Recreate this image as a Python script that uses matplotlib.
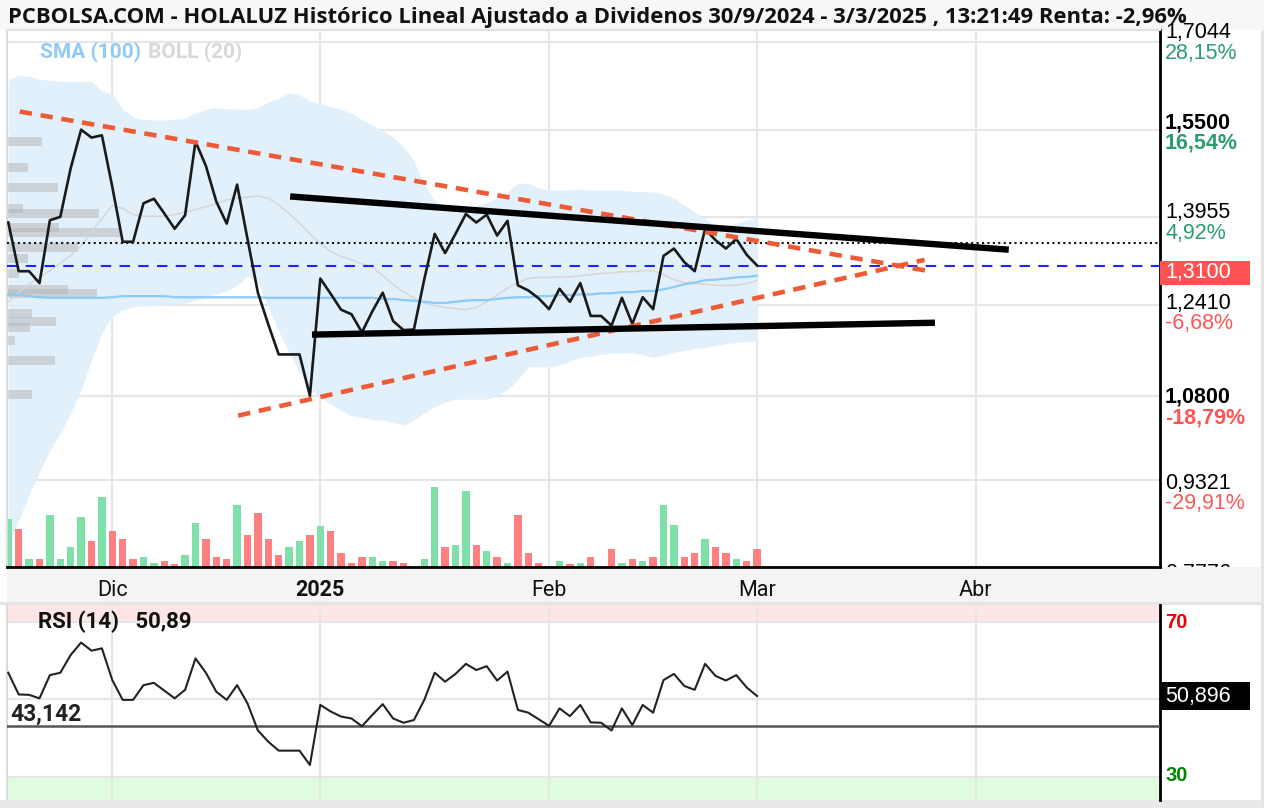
import matplotlib
matplotlib.use("Agg")
import matplotlib.pyplot as plt
from matplotlib import transforms
from matplotlib.patches import Rectangle
import numpy as np

# ---------------- data (trading-day index 0 = 18/11/2024 ... 72 = 3/3/2025) -------------
price = [1.386, 1.300, 1.300, 1.279, 1.390, 1.396, 1.482, 1.550, 1.536, 1.540,
         1.449, 1.352, 1.352, 1.420, 1.428, 1.402, 1.375, 1.399, 1.529, 1.486,
         1.423, 1.384, 1.453, 1.357, 1.262, 1.206, 1.153, 1.153, 1.153, 1.080,
         1.287, 1.260, 1.232, 1.224, 1.192, 1.229, 1.262, 1.212, 1.196, 1.197,
         1.286, 1.366, 1.332, 1.366, 1.401, 1.386, 1.400, 1.363, 1.389, 1.275,
         1.266, 1.252, 1.233, 1.269, 1.246, 1.279, 1.221, 1.221, 1.204, 1.253,
         1.207, 1.254, 1.233, 1.327, 1.340, 1.316, 1.300, 1.3745, 1.355, 1.340,
         1.357, 1.329, 1.310]

boll_upper = [1.637, 1.646, 1.644, 1.639, 1.637, 1.635, 1.635, 1.635, 1.635, 1.618,
              1.613, 1.586, 1.572, 1.568, 1.567, 1.567, 1.568, 1.570, 1.579, 1.586,
              1.589, 1.587, 1.586, 1.586, 1.589, 1.599, 1.606, 1.615, 1.611, 1.601,
              1.596, 1.591, 1.586, 1.579, 1.568, 1.558, 1.548, 1.537, 1.520, 1.495,
              1.452, 1.426, 1.411, 1.409, 1.412, 1.416, 1.421, 1.429, 1.440, 1.455,
              1.455, 1.447, 1.443, 1.443, 1.443, 1.445, 1.443, 1.443, 1.443, 1.443,
              1.441, 1.441, 1.440, 1.436, 1.429, 1.417, 1.404, 1.393, 1.378, 1.380,
              1.385, 1.390, 1.395]

boll_lower = [0.817, 0.860, 0.906, 0.946, 0.983, 1.014, 1.049, 1.091, 1.143, 1.191,
              1.220, 1.232, 1.237, 1.239, 1.239, 1.241, 1.242, 1.244, 1.249, 1.254,
              1.260, 1.266, 1.275, 1.292, 1.280, 1.237, 1.194, 1.157, 1.122, 1.091,
              1.078, 1.066, 1.054, 1.045, 1.042, 1.038, 1.037, 1.033, 1.028, 1.037,
              1.050, 1.061, 1.069, 1.074, 1.074, 1.074, 1.074, 1.081, 1.091, 1.109,
              1.131, 1.131, 1.131, 1.134, 1.141, 1.148, 1.150, 1.153, 1.155, 1.155,
              1.157, 1.153, 1.148, 1.152, 1.157, 1.160, 1.164, 1.165, 1.169, 1.172,
              1.174, 1.176, 1.177]

boll_mid = [1.246, 1.263, 1.277, 1.289, 1.301, 1.314, 1.328, 1.345, 1.369, 1.393,
            1.416, 1.411, 1.400, 1.397, 1.397, 1.397, 1.400, 1.404, 1.409, 1.414,
            1.419, 1.426, 1.429, 1.431, 1.433, 1.429, 1.417, 1.402, 1.385, 1.366,
            1.349, 1.335, 1.326, 1.320, 1.313, 1.308, 1.292, 1.277, 1.263, 1.253,
            1.244, 1.239, 1.236, 1.234, 1.232, 1.236, 1.246, 1.258, 1.270, 1.280,
            1.287, 1.289, 1.289, 1.290, 1.290, 1.292, 1.294, 1.296, 1.297, 1.299,
            1.299, 1.301, 1.301, 1.294, 1.285, 1.280, 1.278, 1.277, 1.275, 1.275,
            1.275, 1.278, 1.284]

sma100 = [1.258, 1.258, 1.256, 1.254, 1.253, 1.253, 1.253, 1.253, 1.253, 1.253,
          1.254, 1.256, 1.256, 1.256, 1.256, 1.256, 1.254, 1.254, 1.254, 1.254,
          1.254, 1.254, 1.254, 1.254, 1.254, 1.253, 1.253, 1.253, 1.253, 1.253,
          1.253, 1.253, 1.253, 1.253, 1.253, 1.253, 1.251, 1.251, 1.249, 1.248,
          1.246, 1.244, 1.244, 1.246, 1.248, 1.249, 1.249, 1.251, 1.253, 1.254,
          1.254, 1.256, 1.256, 1.258, 1.258, 1.259, 1.259, 1.261, 1.261, 1.263,
          1.263, 1.265, 1.265, 1.268, 1.272, 1.277, 1.280, 1.284, 1.285, 1.287,
          1.289, 1.290, 1.292]

volume = [145, 115, 23, 23, 157, 23, 60, 150, 78, 210,
          108, 85, 23, 30, 13, 18, 8, 37, 133, 85,
          30, 23, 187, 97, 163, 85, 37, 60, 78, 97,
          122, 108, 43, 13, 30, 30, 18, 18, 13, 0,
          23, 240, 60, 67, 228, 67, 48, 30, 13, 157,
          43, 13, 0, 18, 10, 13, 30, 0, 55, 13,
          25, 18, 30, 187, 125, 30, 43, 83, 60, 43,
          23, 18, 55]
volume_up = [1, 0, 1, 0, 1, 1, 1, 1, 0, 1,
             0, 0, 0, 1, 1, 0, 0, 1, 1, 0,
             0, 0, 1, 0, 0, 0, 0, 1, 1, 0,
             1, 0, 0, 0, 0, 1, 1, 0, 0, 0,
             1, 1, 0, 1, 1, 0, 1, 0, 1, 0,
             0, 0, 0, 1, 0, 1, 0, 0, 0, 1,
             0, 1, 0, 1, 1, 0, 0, 1, 0, 0,
             1, 0, 0]

rsi = [56.9, 51.3, 51.2, 50.3, 56.3, 56.9, 61.5, 64.7, 62.6, 63.2,
       55.0, 49.9, 49.9, 53.7, 54.3, 52.3, 50.3, 52.5, 60.6, 56.9,
       52.0, 49.9, 53.7, 49.0, 42.0, 39.1, 36.8, 36.8, 36.8, 33.1,
       48.6, 46.9, 45.6, 45.1, 43.1, 46.0, 48.8, 45.1, 44.0, 44.7,
       49.9, 56.9, 54.6, 56.6, 59.2, 57.6, 58.6, 54.9, 57.2, 47.3,
       46.6, 44.9, 43.2, 47.7, 45.7, 48.6, 44.1, 44.0, 42.0, 47.7,
       43.4, 48.6, 46.6, 55.0, 56.6, 53.5, 52.5, 59.2, 56.1, 54.9,
       56.3, 53.1, 50.89]

# volume-by-price profile (price level, relative length in trading days)
profile_level = [1.529, 1.483, 1.448, 1.410, 1.402, 1.378, 1.368, 1.342, 1.323,
                 1.296, 1.268, 1.260, 1.225, 1.212, 1.200, 1.177, 1.143, 1.083]
profile_len = [3.4, 2.0, 4.9, 1.5, 8.8, 5.0, 10.9, 6.8, 2.0,
               1.2, 5.9, 8.7, 2.4, 4.7, 2.2, 0.8, 4.6, 2.4]

# user-drawn trend lines: (x0, y0, x1, y1) in (trading-day index, price)
red_lines = [(1.1, 1.582, 88.9, 1.299), (22.1, 1.045, 88.1, 1.320)]
black_lines = [(27.1, 1.432, 96.2, 1.338), (29.2, 1.188, 89.1, 1.209)]

prev_close = 1.35
last_price = 1.31
last_rsi = 50.896
rsi_ref = 43.142

price_levels = [1.7044, 1.5500, 1.3955, 1.2410, 1.0800, 0.9321, 0.7776]
price_labels = ["1,7044", "1,5500", "1,3955", "1,2410", "1,0800", "0,9321", "0,7776"]
pct_labels = ["28,15%", "16,54%", "4,92%", "-6,68%", "-18,79%", "-29,91%", "-41,53%"]
bold_levels = [False, True, False, False, True, False, False]

month_idx = [10, 30, 52, 72, 93]
month_labels = ["Dic", "2025", "Feb", "Mar", "Abr"]

title = ("PCBOLSA.COM - HOLALUZ Histórico Lineal Ajustado a Dividenos 30/9/2024 - "
         "3/3/2025 , 13:21:49 Renta: -2,96%")

# ---------------- figure -------------
W, H = 1264, 808
fig = plt.figure(figsize=(W / 100, H / 100), dpi=100)
fig.patch.set_facecolor("white")


def box(x0, y0, x1, y1):
    return [x0 / W, 1 - y1 / H, (x1 - x0) / W, (y1 - y0) / H]


def frect(x0, y0, x1, y1, **kw):
    fig.add_artist(Rectangle((x0 / W, 1 - y1 / H), (x1 - x0) / W, (y1 - y0) / H,
                             transform=fig.transFigure, **kw))


# title bar and date strip
frect(0, 0, W, 30, fc="#f7f7f7", ec="none", zorder=0)
frect(7, 567, 1262, 602, fc="#f4f4f4", ec="none", zorder=0)
frect(0, 602, W, 605, fc="#e4e4e4", ec="none", zorder=0)
frect(0, 800, W, 808, fc="#e9e9e9", ec="none", zorder=0)
frect(1261, 30, W, 808, fc="#e4e4e4", ec="none", zorder=0)

XL = (-0.125, 110.74)
Y0, Y1 = 30, 567                     # pixel rows of the price panel
YL = (0.806, 1.726)
SPX = (YL[1] - YL[0]) / (Y1 - Y0)    # price per pixel
x = np.arange(len(price))

ax = fig.add_axes(box(7, Y0, 1160, Y1))
ax.set_xlim(*XL)
ax.set_ylim(*YL)
ax.set_facecolor("white")
ax.set_yticks(price_levels)
ax.set_xticks(month_idx)
ax.set_xticklabels(month_labels, family="Roboto", fontsize=15.5, color="#111111")
for lbl in ax.get_xticklabels():
    if lbl.get_text() == "2025":
        lbl.set_fontweight("bold")
ax.tick_params(axis="both", length=0, labelleft=False, pad=9)
ax.grid(True, color="#e6e6e6", lw=1.5)
ax.set_axisbelow(True)
ax.spines["top"].set_color("#e2e2e2")
ax.spines["top"].set_linewidth(1.5)
ax.spines["left"].set_color("#dcdcdc")
ax.spines["left"].set_linewidth(1.5)
ax.spines["bottom"].set_color("black")
ax.spines["bottom"].set_linewidth(2)
ax.spines["right"].set_color("black")
ax.spines["right"].set_linewidth(2)

# Bollinger band
ax.fill_between(x, boll_lower, boll_upper, color="#e1f0fb", lw=0, zorder=1)
ax.plot(x, boll_mid, color="#d6d6d6", lw=1.1, zorder=3)
ax.plot(x, sma100, color="#8ccaf8", lw=1.6, zorder=3)

# volume profile
ax.barh(profile_level, profile_len, left=XL[0], height=0.016, color="#b4b4b4",
        alpha=0.5, lw=0, zorder=2)

# volume bars (scaled to the bottom band of the panel)
vtrans = transforms.blended_transform_factory(ax.transData, ax.transAxes)
vmax = max(volume)
for xi, v, up in zip(x, volume, volume_up):
    if v <= 0:
        continue
    h = v / vmax * (80.0 / (Y1 - Y0))
    ax.add_patch(Rectangle((xi - 0.36, 0), 0.72, h, transform=vtrans,
                           fc="#80e0aa" if up else "#ff8080", ec="none", zorder=2))

# reference lines
ax.axhline(prev_close, color="#111111", lw=1.5, ls=(0, (1.0, 1.6)), zorder=4)
ax.axhline(last_price, color="#2323ff", lw=1.5, ls=(0, (5, 4)), zorder=4)

# price
ax.plot(x, price, color="#1a1a1a", lw=1.9, zorder=6)

# trend lines
for (x0, y0, x1, y1) in red_lines:
    ax.plot([x0, x1], [y0, y1], color="#ec5a36", lw=3.3, ls=(0, (2.7, 1.9)),
            zorder=7, solid_capstyle="butt", dash_capstyle="butt")
for (x0, y0, x1, y1) in black_lines:
    ax.plot([x0, x1], [y0, y1], color="black", lw=4.6, zorder=8,
            solid_capstyle="butt")

fig.text(40 / W, 1 - 52 / H, "SMA (100)", family="Roboto", fontweight="bold",
         fontsize=15, color="#90cbf8", va="center", ha="left")
fig.text(148 / W, 1 - 52 / H, "BOLL (20)", family="Roboto", fontweight="bold",
         fontsize=15, color="#d8d8d8", va="center", ha="left")

# right price labels (axis extends up into the title bar, same price scale)
axr = fig.add_axes(box(1160, 0, 1261, Y1))
axr.set_xlim(0, 1)
axr.set_ylim(YL[0], YL[1] + Y0 * SPX)
axr.axis("off")
rtr = transforms.blended_transform_factory(axr.transAxes, axr.transData)
up_tr = transforms.offset_copy(rtr, fig=fig, x=0, y=10, units="dots")
dn_tr = transforms.offset_copy(rtr, fig=fig, x=0, y=-10.5, units="dots")
for lvl, lab, pct, b in zip(price_levels, price_labels, pct_labels, bold_levels):
    w = "bold" if b else "normal"
    axr.text(5 / 101, lvl, lab, transform=up_tr, family="Liberation Sans",
             fontsize=15.5, fontweight=w, color="black", va="center", ha="left",
             clip_on=True)
    pc = "#2a9d6f" if not pct.startswith("-") else "#ff5555"
    axr.text(5 / 101, lvl, pct, transform=dn_tr, family="Liberation Sans",
             fontsize=15.5, fontweight=w, color=pc, va="center", ha="left",
             clip_on=True)
hpx = 24 * SPX
axr.add_patch(Rectangle((0, last_price - hpx / 2), 90 / 101, hpx, transform=rtr,
                        fc="#ff5252", ec="none", zorder=5, clip_on=False))
axr.text(5 / 101, last_price, "1,3100", transform=rtr, family="Liberation Sans",
         fontsize=15.5, color="white", va="center", ha="left", zorder=6)

# title drawn last so it sits over the label column like the original
fig.text(8 / W, 1 - 17 / H, title, fontsize=15.8, fontweight="bold",
         family="Open Sans", color="#111111", va="center", ha="left", zorder=10)

# ---------------- RSI panel -------------
RL = (24.06, 74.39)
ax2 = fig.add_axes(box(7, 605, 1160, 800))
ax2.set_xlim(*XL)
ax2.set_ylim(*RL)
ax2.axhspan(70, 80, color="#ffe6e6", lw=0, zorder=0)
ax2.axhspan(20, 30, color="#e0fce0", lw=0, zorder=0)
ax2.set_yticks([30, 50, 70])
ax2.set_xticks(month_idx)
ax2.tick_params(length=0, labelleft=False, labelbottom=False)
ax2.grid(True, color="#e6e6e6", lw=1.5)
ax2.set_axisbelow(True)
ax2.spines["top"].set_visible(False)
ax2.spines["bottom"].set_visible(False)
ax2.spines["left"].set_color("#dcdcdc")
ax2.spines["left"].set_linewidth(1.5)
ax2.spines["right"].set_color("black")
ax2.spines["right"].set_linewidth(2)
ax2.axhline(rsi_ref, color="#555555", lw=1.8, zorder=3)
ax2.plot(x, rsi, color="#222222", lw=1.5, zorder=4)
fig.text(10 / W, 1 - 714 / H, "43,142", family="Roboto", fontweight="bold",
         fontsize=16.5, color="#222222", va="center", ha="left")
fig.text(38 / W, 1 - 622 / H, "RSI (14)   50,89", family="Roboto", fontweight="bold",
         fontsize=16, color="#111111", va="center", ha="left")

axr2 = fig.add_axes(box(1160, 605, 1261, 800))
axr2.set_xlim(0, 1)
axr2.set_ylim(*RL)
axr2.axis("off")
rtr2 = transforms.blended_transform_factory(axr2.transAxes, axr2.transData)
axr2.text(5 / 101, 70, "70", transform=rtr2, family="Liberation Sans",
          fontweight="bold", fontsize=14.5, color="#ee0000", va="center", ha="left")
axr2.text(5 / 101, 30.5, "30", transform=rtr2, family="Liberation Sans",
          fontweight="bold", fontsize=14.5, color="#008800", va="center", ha="left")
hr = 28 * (RL[1] - RL[0]) / 195
axr2.add_patch(Rectangle((0, last_rsi - hr / 2), 90 / 101, hr, transform=rtr2,
                         fc="black", ec="none", clip_on=False))
axr2.text(5 / 101, last_rsi, "50,896", transform=rtr2, family="Liberation Sans",
          fontsize=15.5, color="white", va="center", ha="left")

fig.savefig("out.png", dpi=100)
